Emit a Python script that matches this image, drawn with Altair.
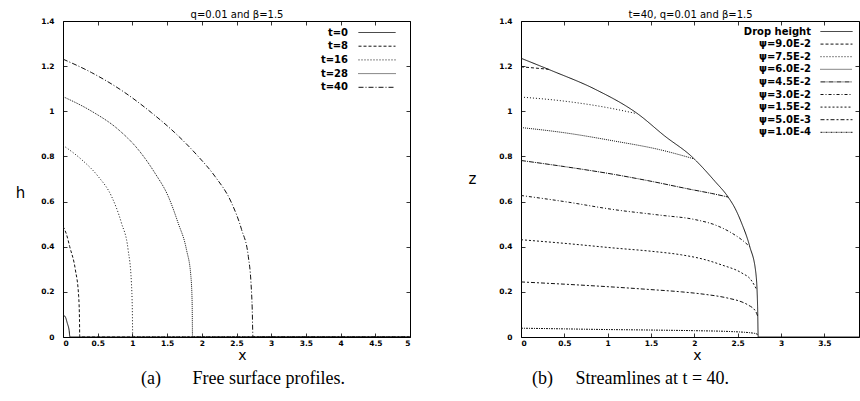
import altair as alt
import pandas as pd

# ---- panel (a): free-surface profiles h(x) at successive times ----
PROFILE_NAMES = ["t=0", "t=8", "t=16", "t=28", "t=40"]

T0_X = [0.0, 0.035, 0.062, 0.088, 0.1, 5.0]
T0_H = [0.098, 0.088, 0.061, 0.03, 0.0, 0.0]

T8_X = [0.0, 0.05, 0.096, 0.178, 0.226, 0.238, 0.241, 5.0]
T8_H = [0.49, 0.455, 0.401, 0.298, 0.179, 0.07, 0.0, 0.0]

T16_X = [0.0, 0.264, 0.505, 0.698, 0.842, 0.938, 0.986, 0.999, 1.005, 5.0]
T16_H = [0.849, 0.787, 0.712, 0.624, 0.505, 0.387, 0.239, 0.12, 0.0, 0.0]

T28_X = [0.0, 0.408, 0.794, 1.082, 1.323, 1.515, 1.659, 1.779, 1.843, 1.861, 1.866, 5.0]
T28_H = [1.065, 1.001, 0.92, 0.831, 0.727, 0.624, 0.505, 0.387, 0.268, 0.15, 0.0, 0.0]

T40_X = [0.0, 0.408, 0.89, 1.274, 1.612, 1.948, 2.189, 2.429, 2.573, 2.67, 2.709, 2.727, 2.737, 5.0]
T40_H = [1.231, 1.172, 1.083, 0.994, 0.905, 0.80, 0.712, 0.594, 0.476, 0.357, 0.239, 0.12, 0.0, 0.0]

PROFILE_X = [T0_X, T8_X, T16_X, T28_X, T40_X]
PROFILE_H = [T0_H, T8_H, T16_H, T28_H, T40_H]

# ---- panel (b): drop surface and streamlines at t=40 ----
DROP_NAME = "Drop height"
DROP_X = [0.0, 0.354, 0.853, 1.353, 1.66, 1.968, 2.237, 2.39, 2.47, 2.545, 2.64, 2.71, 2.73, 2.737, 5.0]
DROP_H = [1.235, 1.18, 1.098, 0.987, 0.89, 0.80, 0.69, 0.62, 0.57, 0.505, 0.40, 0.283, 0.135, 0.0, 0.0]

PSI_NAMES = ["ψ=9.0E-2", "ψ=7.5E-2", "ψ=6.0E-2", "ψ=4.5E-2",
             "ψ=3.0E-2", "ψ=1.5E-2", "ψ=5.0E-3", "ψ=1.0E-4"]
PSI_X = [
    [0.0, 0.15, 0.32],
    [0.0, 0.5, 1.0, 1.33],
    [0.0, 0.5, 1.08, 1.6, 1.99],
    [0.0, 0.5, 1.08, 1.5, 1.97, 2.2, 2.39],
    [0.0, 0.5, 1.08, 1.6, 2.01, 2.25, 2.43, 2.55, 2.64],
    [0.0, 0.5, 1.08, 1.5, 1.85, 2.1, 2.31, 2.55, 2.65, 2.70, 2.72],
    [0.0, 0.5, 1.08, 1.5, 1.85, 2.1, 2.39, 2.55, 2.62, 2.71, 2.733],
    [0.0, 0.5, 1.0, 1.47, 2.0, 2.43, 2.70, 2.737],
]
PSI_H = [
    [1.197, 1.192, 1.186],
    [1.063, 1.045, 1.016, 0.99],
    [0.928, 0.905, 0.868, 0.83, 0.79],
    [0.782, 0.755, 0.72, 0.69, 0.653, 0.636, 0.62],
    [0.627, 0.60, 0.564, 0.54, 0.52, 0.495, 0.461, 0.43, 0.40],
    [0.431, 0.415, 0.394, 0.38, 0.364, 0.345, 0.32, 0.283, 0.255, 0.224, 0.209],
    [0.244, 0.234, 0.221, 0.21, 0.20, 0.19, 0.172, 0.155, 0.142, 0.112, 0.09],
    [0.039, 0.036, 0.033, 0.031, 0.028, 0.024, 0.016, 0.01],
]

XA_TICKS = [0, 0.5, 1, 1.5, 2, 2.5, 3, 3.5, 4, 4.5, 5]
XB_TICKS = [0, 0.5, 1, 1.5, 2, 2.5, 3, 3.5]
H_TICKS = [0, 0.2, 0.4, 0.6, 0.8, 1, 1.2, 1.4]

# line styles (gnuplot-like monochrome dash patterns)
PROFILE_DASH = [[1, 0], [3, 2], [1, 2], [1, 1], [5, 2, 1, 2]]
STREAM_DASH = [[1, 0], [3, 2], [1, 2], [1, 1], [5, 1, 1, 1],
               [3, 2, 1, 2], [2, 2], [4, 2, 2, 2], [2, 1, 1, 1]]

INK = "#111111"
NB = "\u00a0"


def long_table(names, xs, hs):
    rows = []
    for name, xv, hv in zip(names, xs, hs):
        for k, (x, h) in enumerate(zip(xv, hv)):
            rows.append({"curve": name, "x": x, "h": h, "k": k})
    return pd.DataFrame(rows)


def grid_axis(**kw):
    # ticks are drawn as short inward grid dashes, gnuplot style
    base = dict(domain=False, ticks=False, grid=True, gridDash=[4, 1000],
                gridColor="#000", gridOpacity=1, gridWidth=0.8,
                labelFont="DejaVu Sans", labelFontSize=7.5, labelFontWeight="bold",
                labelColor="#000", titleFont="DejaVu Sans", titleFontWeight="normal",
                titleColor="#000")
    base.update(kw)
    return alt.Axis(**base)


def panel(df, names, dashes, xmax, xticks, width, xtitle_x, ytitle, ytitle_x, ytitle_y,
          top_title, legend_x, legend_y, sym_w, row_h, row_gap, lab_gap, lab_size,
          caption, caption_dx):
    xs = alt.Scale(domain=[0, xmax], nice=False, zero=False)
    ys = alt.Scale(domain=[0, 1.4], nice=False)
    # flat legend sample: a horizontal stroke sym_w long inside a row_h tall cell
    k = sym_w / row_h
    sample = f"M{-k:.3f},0H{k:.3f}"
    lines = alt.Chart(df).mark_line(
        color=INK, strokeWidth=1, clip=True, interpolate="monotone"
    ).encode(
        x=alt.X("x:Q", scale=xs,
                axis=grid_axis(values=xticks, format="~g", title="x", labelPadding=2,
                               titleFontSize=14, titleX=xtitle_x, titleY=22,
                               titleAlign="center", titleBaseline="alphabetic")),
        y=alt.Y("h:Q", scale=ys,
                axis=grid_axis(values=H_TICKS, format="~g", title=ytitle, labelPadding=9,
                               titleFontSize=15, titleAngle=0, titleX=ytitle_x,
                               titleY=ytitle_y, titleAlign="center",
                               titleBaseline="alphabetic")),
        strokeDash=alt.StrokeDash(
            "curve:N", sort=names,
            scale=alt.Scale(domain=names, range=dashes),
            legend=alt.Legend(
                orient="none", legendX=legend_x + sym_w / 2 - row_h / 2, legendY=legend_y,
                title=None, symbolType=sample, symbolSize=row_h * row_h,
                symbolStrokeWidth=1, symbolStrokeColor=INK, symbolFillColor="transparent",
                rowPadding=row_gap, padding=0,
                labelAlign="right",
                labelOffset={"expr": str(-(row_h / 2 + sym_w / 2 + lab_gap))},
                labelFont="DejaVu Sans", labelFontSize=lab_size, labelFontWeight="bold",
                labelColor="#000",
            ),
        ),
        order="k:Q",
    )
    mirror = alt.Chart(df).mark_point(opacity=0, clip=True).encode(
        x=alt.X("x:Q", scale=xs,
                axis=grid_axis(orient="top", values=xticks, labels=False,
                               title=top_title, titleFontSize=10, titleY=-4,
                               titleBaseline="alphabetic")),
        y=alt.Y("h:Q", scale=ys,
                axis=grid_axis(orient="right", values=H_TICKS, labels=False, title=None)),
    )
    return alt.layer(lines, mirror).resolve_axis(
        x="independent", y="independent"
    ).properties(
        width=width, height=316,
        title=alt.TitleParams(caption, orient="bottom", anchor="start", frame="group",
                              dx=caption_dx, font="Liberation Serif", fontSize=18,
                              fontWeight="normal", color="#000", offset=8),
    )


df_a = long_table(PROFILE_NAMES, PROFILE_X, PROFILE_H)
df_b = long_table([DROP_NAME] + PSI_NAMES, [DROP_X] + PSI_X, [DROP_H] + PSI_H)

panel_a = panel(df_a, PROFILE_NAMES, PROFILE_DASH, 5, XA_TICKS, 347, 179, "h", -43, 176,
                "q=0.01 and β=1.5", 295, 6, 37, 10, 2.7, 11, 10,
                "(a)" + NB * 7 + "Free surface profiles.", 78)
panel_b = panel(df_b, [DROP_NAME] + PSI_NAMES, STREAM_DASH, 3.9, XB_TICKS, 338, 176,
                "z", -49, 162,
                "t=40, q=0.01 and β=1.5", 299, 5, 32, 10, 1.6, 10, 10,
                "(b)" + NB * 5 + "Streamlines at t = 40.", 11)

chart = alt.hconcat(panel_a, panel_b, spacing=56).resolve_scale(
    strokeDash="independent"
).resolve_legend(
    strokeDash="independent"
).properties(
    padding={"left": 14, "top": 8, "right": 0, "bottom": 0}
).configure_view(stroke="#000", strokeWidth=1)

chart.save("out.html", embed_options={"renderer": "svg", "actions": False})
